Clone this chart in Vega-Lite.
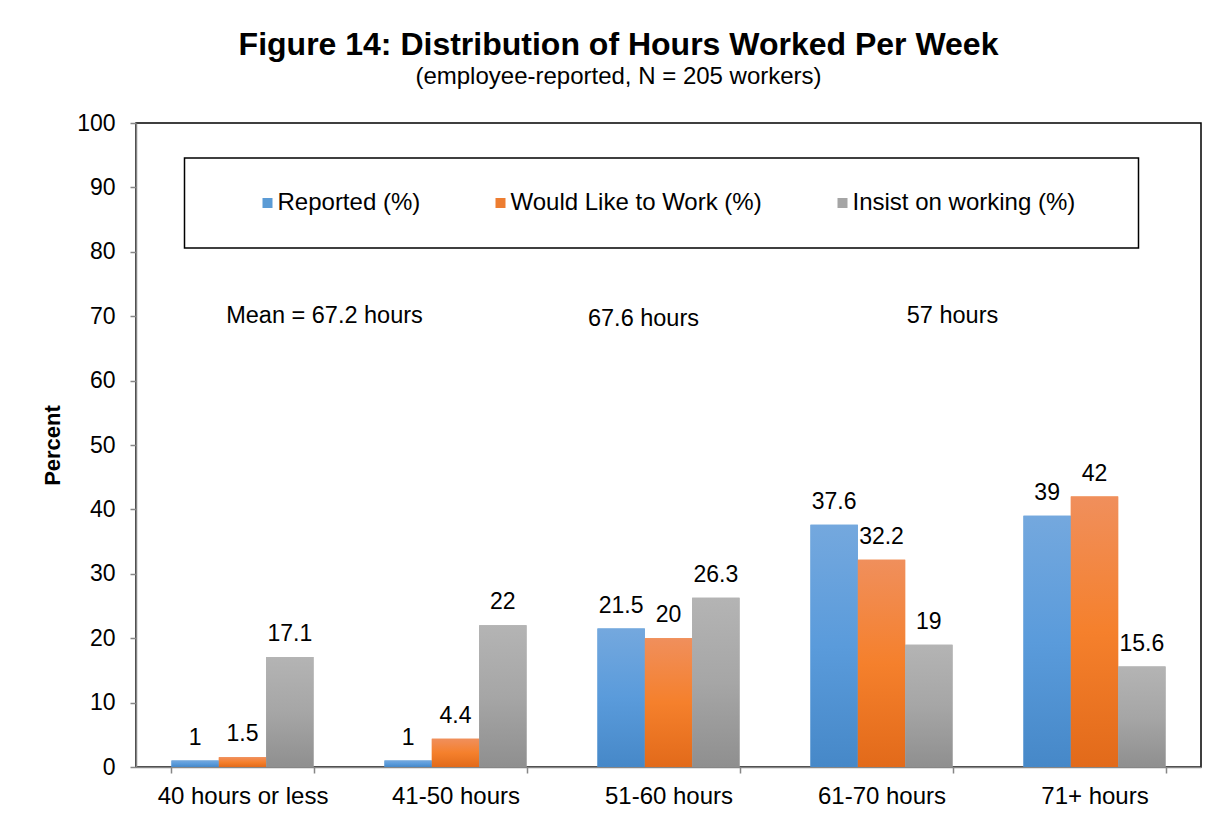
{
  "$schema": "https://vega.github.io/schema/vega-lite/v6.json",
  "width": 1065,
  "height": 644,
  "autosize": {"type": "none"},
  "padding": {"left": 136, "top": 123, "right": 20, "bottom": 53},
  "background": "white",
  "title": {
    "text": "Figure 14: Distribution of Hours Worked Per Week",
    "subtitle": "(employee-reported, N = 205 workers)",
    "anchor": "middle",
    "frame": "group",
    "dx": -50,
    "offset": 22,
    "font": "Liberation Sans",
    "fontSize": 32,
    "fontWeight": "bold",
    "color": "black",
    "subtitleFont": "Liberation Sans",
    "subtitleFontSize": 24,
    "subtitleColor": "black",
    "subtitlePadding": 3
  },
  "config": {
    "font": "Liberation Sans",
    "view": {"stroke": "black", "strokeWidth": 1.5},
    "legend": {"strokeWidth": 1.5}
  },
  "datasets": {
    "bars": [
      {"hours": "40 hours or less", "series": "Reported (%)", "value": 1},
      {"hours": "40 hours or less", "series": "Would Like to Work (%)", "value": 1.5},
      {"hours": "40 hours or less", "series": "Insist on working (%)", "value": 17.1},
      {"hours": "41-50 hours", "series": "Reported (%)", "value": 1},
      {"hours": "41-50 hours", "series": "Would Like to Work (%)", "value": 4.4},
      {"hours": "41-50 hours", "series": "Insist on working (%)", "value": 22},
      {"hours": "51-60 hours", "series": "Reported (%)", "value": 21.5},
      {"hours": "51-60 hours", "series": "Would Like to Work (%)", "value": 20},
      {"hours": "51-60 hours", "series": "Insist on working (%)", "value": 26.3},
      {"hours": "61-70 hours", "series": "Reported (%)", "value": 37.6},
      {"hours": "61-70 hours", "series": "Would Like to Work (%)", "value": 32.2},
      {"hours": "61-70 hours", "series": "Insist on working (%)", "value": 19},
      {"hours": "71+ hours", "series": "Reported (%)", "value": 39},
      {"hours": "71+ hours", "series": "Would Like to Work (%)", "value": 42},
      {"hours": "71+ hours", "series": "Insist on working (%)", "value": 15.6}
    ]
  },
  "data": {"name": "bars"},
  "encoding": {
    "x": {
      "field": "hours",
      "type": "nominal",
      "sort": ["40 hours or less", "41-50 hours", "51-60 hours", "61-70 hours", "71+ hours"],
      "scale": {"paddingInner": 0.333, "paddingOuter": 0.1665},
      "axis": {
        "title": null,
        "labelAngle": 0,
        "labelFont": "Liberation Sans",
        "labelFontSize": 24,
        "labelColor": "black",
        "labelPadding": 11,
        "domainColor": "#868686",
        "domainWidth": 1.5,
        "tickColor": "#868686",
        "tickWidth": 1.5,
        "tickSize": 6,
        "tickBand": "extent"
      }
    },
    "xOffset": {
      "field": "series",
      "type": "nominal",
      "sort": ["Reported (%)", "Would Like to Work (%)", "Insist on working (%)"],
      "scale": {"domain": ["Reported (%)", "Would Like to Work (%)", "Insist on working (%)"]}
    },
    "y": {
      "field": "value",
      "type": "quantitative",
      "scale": {"domain": [0, 100], "nice": false},
      "axis": {
        "title": "Percent",
        "titleFont": "Liberation Sans",
        "titleFontSize": 22,
        "titleFontWeight": "bold",
        "titleColor": "black",
        "titlePadding": 12,
        "values": [0, 10, 20, 30, 40, 50, 60, 70, 80, 90, 100],
        "grid": false,
        "labelFont": "Liberation Sans",
        "labelFontSize": 23,
        "labelColor": "black",
        "labelPadding": 15,
        "domainColor": "#868686",
        "domainWidth": 1.5,
        "tickColor": "#868686",
        "tickWidth": 1.5,
        "tickSize": 6
      }
    }
  },
  "layer": [
    {
      "mark": {"type": "bar"},
      "encoding": {
        "color": {
          "field": "series",
          "type": "nominal",
          "sort": ["Reported (%)", "Would Like to Work (%)", "Insist on working (%)"],
          "scale": {
            "domain": ["Reported (%)", "Would Like to Work (%)", "Insist on working (%)"],
            "range": ["#5B9BD5", "#ED7D31", "#A5A5A5"]
          },
          "legend": {
            "orient": "none",
            "legendX": 48.5,
            "legendY": 35,
            "direction": "horizontal",
            "title": "\u00a0",
            "titleOrient": "right",
            "titleFontSize": 24,
            "titlePadding": 30,
            "symbolType": "square",
            "symbolSize": 100,
            "symbolStrokeWidth": 0,
            "labelFont": "Liberation Sans",
            "labelFontSize": 24,
            "labelColor": "black",
            "labelOffset": -2,
            "labelLimit": 400,
            "columnPadding": 30,
            "padding": 33,
            "symbolOffset": 38,
            "strokeColor": "black"
          }
        }
      }
    },
    {
      "transform": [{"filter": "datum.series === 'Reported (%)'"}],
      "mark": {
        "type": "bar",
        "color": {
          "gradient": "linear", "x1": 0, "y1": 0, "x2": 0, "y2": 1,
          "stops": [
            {"offset": 0, "color": "#74A8DE"},
            {"offset": 0.5, "color": "#5A9BDB"},
            {"offset": 1, "color": "#4688C8"}
          ]
        }
      }
    },
    {
      "transform": [{"filter": "datum.series === 'Would Like to Work (%)'"}],
      "mark": {
        "type": "bar",
        "color": {
          "gradient": "linear", "x1": 0, "y1": 0, "x2": 0, "y2": 1,
          "stops": [
            {"offset": 0, "color": "#F08F5C"},
            {"offset": 0.5, "color": "#F5802C"},
            {"offset": 1, "color": "#E26A1A"}
          ]
        }
      }
    },
    {
      "transform": [{"filter": "datum.series === 'Insist on working (%)'"}],
      "mark": {
        "type": "bar",
        "color": {
          "gradient": "linear", "x1": 0, "y1": 0, "x2": 0, "y2": 1,
          "stops": [
            {"offset": 0, "color": "#B4B4B4"},
            {"offset": 0.5, "color": "#A6A6A6"},
            {"offset": 1, "color": "#8F8F8F"}
          ]
        }
      }
    },
    {
      "mark": {"type": "text", "baseline": "alphabetic", "dy": -16, "font": "Liberation Sans", "fontSize": 23, "color": "black"},
      "encoding": {"text": {"field": "value", "type": "quantitative"}}
    },
    {
      "data": {"values": [{"hours": "40 hours or less", "value": 70, "label": "Mean = 67.2 hours"}]},
      "mark": {"type": "text", "baseline": "middle", "dx": 82, "font": "Liberation Sans", "fontSize": 23.5, "color": "black"},
      "encoding": {"xOffset": null, "text": {"field": "label", "type": "nominal"}}
    },
    {
      "data": {"values": [{"hours": "51-60 hours", "value": 69.5, "label": "67.6 hours"}]},
      "mark": {"type": "text", "baseline": "middle", "dx": -25, "font": "Liberation Sans", "fontSize": 23.5, "color": "black"},
      "encoding": {"xOffset": null, "text": {"field": "label", "type": "nominal"}}
    },
    {
      "data": {"values": [{"hours": "61-70 hours", "value": 70, "label": "57 hours"}]},
      "mark": {"type": "text", "baseline": "middle", "dx": 71, "font": "Liberation Sans", "fontSize": 23.5, "color": "black"},
      "encoding": {"xOffset": null, "text": {"field": "label", "type": "nominal"}}
    }
  ]
}
